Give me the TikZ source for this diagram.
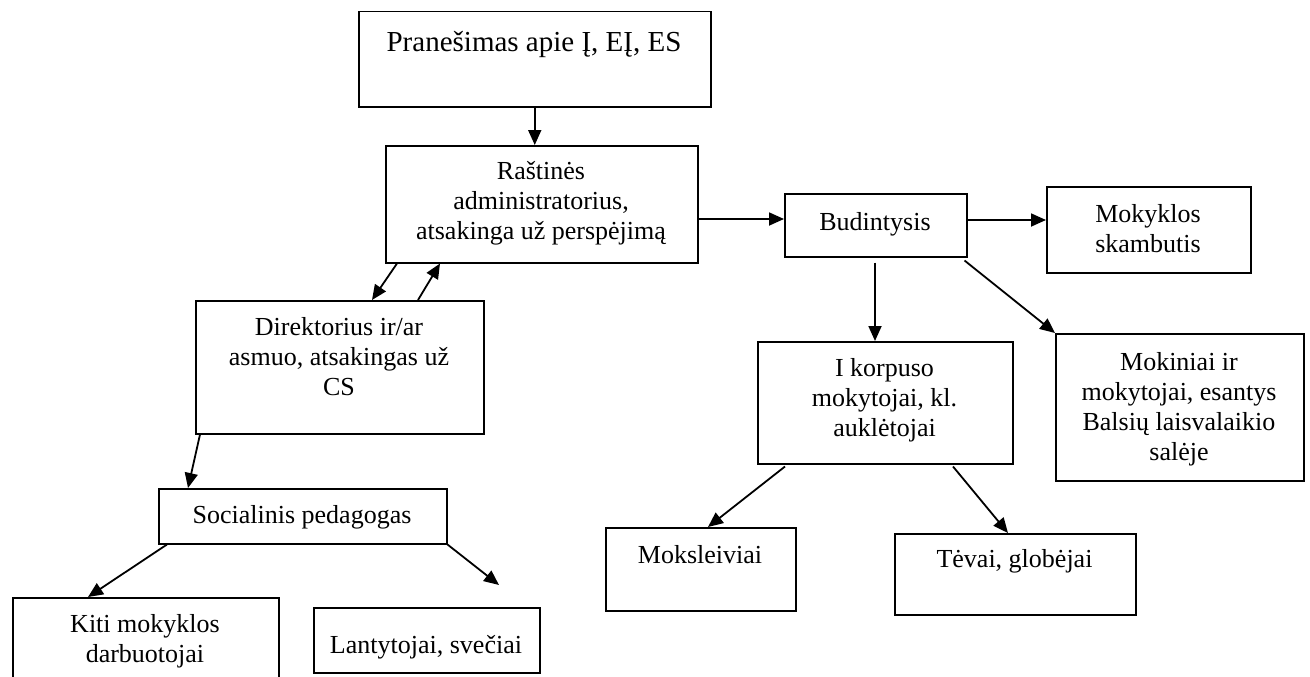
\documentclass[tikz,border=0pt]{standalone}
\usepackage{fontspec}
\setmainfont{Liberation Serif}
\usetikzlibrary{arrows.meta,calc}
\tikzset{
  box/.style={draw=black, line width=1.5pt, inner sep=0pt, anchor=north west, fill=none},
  txt/.style={inner sep=0pt, align=center, font=\fontsize{26}{30}\selectfont},
  bigtxt/.style={inner sep=0pt, align=center, font=\fontsize{29}{33}\selectfont},
  arr/.style={line width=1.8pt, -{Triangle[length=15pt,width=13pt]}},
}
\begin{document}
\begin{tikzpicture}[x=1pt,y=-1pt]
\fill[white] (0,0) rectangle (1310,677);
\useasboundingbox (0,0) rectangle (1310,677);
\clip (0,0) rectangle (1310,677);
% boxes
\node[box, minimum width=352pt, minimum height=95pt]  (top)   at (358,11)  {};
\node[box, minimum width=312pt, minimum height=117pt] (rast)  at (385,145) {};
\node[box, minimum width=182pt, minimum height=63pt]  (bud)   at (784,193) {};
\node[box, minimum width=204pt, minimum height=86pt]  (skamb) at (1046,186) {};
\node[box, minimum width=288pt, minimum height=133pt] (dir)   at (195,300) {};
\node[box, minimum width=255pt, minimum height=122pt] (ikorp) at (757,341) {};
\node[box, minimum width=248pt, minimum height=147pt] (mokin) at (1055,333) {};
\node[box, minimum width=288pt, minimum height=55pt]  (soc)   at (158,488) {};
\node[box, minimum width=266pt, minimum height=100pt] (kiti)  at (12,597) {};
\node[box, minimum width=226pt, minimum height=65pt]  (lant)  at (313,607) {};
\node[box, minimum width=190pt, minimum height=83pt]  (moks)  at (605,527) {};
\node[box, minimum width=241pt, minimum height=81pt]  (tevai) at (894,533) {};
% texts
\node[bigtxt, anchor=base]  (top-t)   at (534,52)   {Pranešimas apie Į, EĮ, ES};
\node[txt, anchor=north]    (rast-t)  at (541,158)  {\strut Raštinės\\administratorius,\\atsakinga už perspėjimą};
\node[txt, anchor=base]     (bud-t)   at (875,230)  {Budintysis};
\node[txt, anchor=north]    (skamb-t) at (1148,201) {\strut Mokyklos\\skambutis};
\node[txt, anchor=north]    (dir-t)   at (339,314)  {\strut Direktorius ir/ar\\asmuo, atsakingas už\\CS};
\node[txt, anchor=north]    (ikorp-t) at (884.5,355) {\strut I korpuso\\mokytojai, kl.\\auklėtojai};
\node[txt, anchor=north]    (mokin-t) at (1179,349) {\strut Mokiniai ir\\mokytojai, esantys\\Balsių laisvalaikio\\salėje};
\node[txt, anchor=base]     (soc-t)   at (302,523)  {Socialinis pedagogas};
\node[txt, anchor=north]    (kiti-t)  at (145,611)  {\strut Kiti mokyklos\\darbuotojai};
\node[txt, anchor=base]     (lant-t)  at (426,653)  {Lantytojai, svečiai};
\node[txt, anchor=base]     (moks-t)  at (700,563)  {Moksleiviai};
\node[txt, anchor=base]     (tevai-t) at (1014.5,567) {Tėvai, globėjai};
% connectors
\draw[arr] (top.south) -- (top.south |- rast.north);
\draw[arr] ($(rast.north east)+(0,74)$) -- ($(bud.north west)+(0,26)$);
\draw[arr] ($(bud.north east)+(0,27)$) -- ($(skamb.north west)+(0,34)$);
\draw[arr] ($(bud.south west)+(91,5)$) -- ($(ikorp.north west)+(118,0)$);
\draw[arr] ($(bud.south east)+(-3,3)$) -- (mokin.north west);
\draw[arr] ($(rast.south west)+(12,0)$) -- ($(dir.north west)+(177,0)$);
\draw[arr] ($(dir.north west)+(223,0)$) -- ($(rast.south west)+(55,0)$);
\draw[arr] ($(dir.south west)+(5,0)$) -- ($(soc.north west)+(30,0)$);
\draw[arr] ($(soc.south west)+(9,0)$) -- ($(kiti.north west)+(76,0)$);
\draw[arr] (soc.south east) -- ($(lant.north west)+(186,-22)$);
\draw[arr] ($(ikorp.south west)+(28,2)$) -- ($(moks.north west)+(103,0)$);
\draw[arr] ($(ikorp.south west)+(196,2)$) -- ($(tevai.north west)+(114,0)$);
\end{tikzpicture}
\end{document}
